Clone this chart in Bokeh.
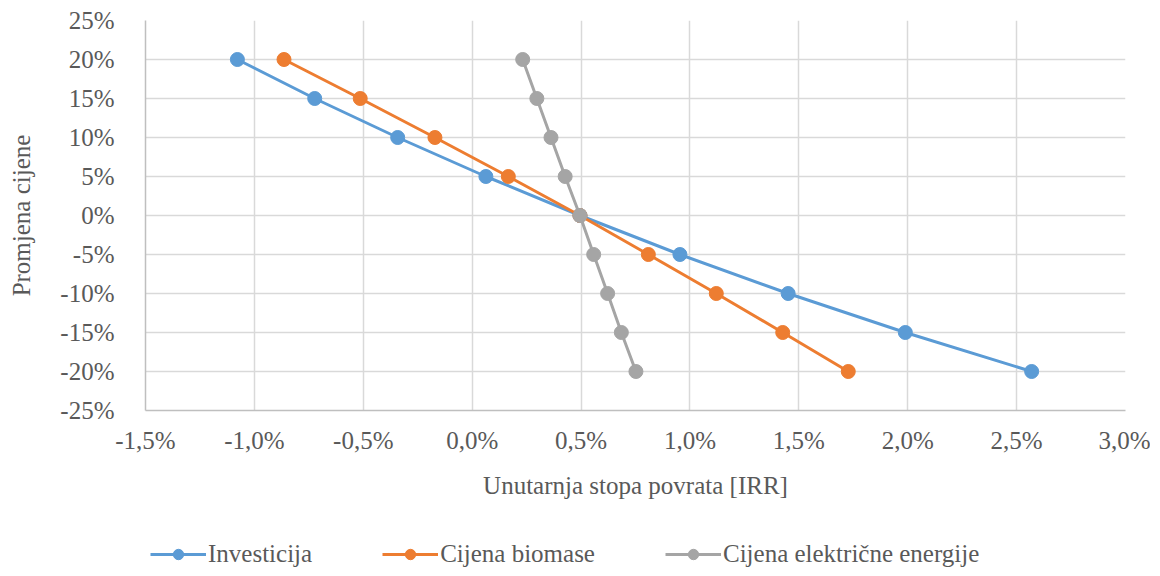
from bokeh.plotting import figure
from bokeh.layouts import column
from bokeh.models import Range1d, FixedTicker, CustomJSTickFormatter, Legend, LegendItem, ColumnDataSource
from bokeh.embed import file_html
from bokeh.resources import INLINE

# Data (IRR in %, price change in %)
price_change = [20, 15, 10, 5, 0, -5, -10, -15, -20]
irr_investicija = [-1.078, -0.723, -0.342, 0.063, 0.495, 0.954, 1.451, 1.989, 2.569]
irr_biomasa = [-0.864, -0.514, -0.171, 0.166, 0.495, 0.809, 1.121, 1.426, 1.727]
irr_struja = [0.232, 0.297, 0.362, 0.427, 0.495, 0.558, 0.622, 0.685, 0.752]

series_names = ["Investicija", "Cijena biomase", "Cijena električne energije"]
series_colors = ["#5B9BD5", "#ED7D31", "#A5A5A5"]

x_ticks = [-1.5, -1.0, -0.5, 0.0, 0.5, 1.0, 1.5, 2.0, 2.5, 3.0]
y_ticks = [-25, -20, -15, -10, -5, 0, 5, 10, 15, 20, 25]

FONT = "Liberation Serif"
FS = "25px"
TXT = "#595959"
W = 1150

p = figure(width=W, height=515, output_backend="svg", toolbar_location=None,
           x_range=Range1d(-1.5, 3.0), y_range=Range1d(-25, 25),
           min_border_left=145, min_border_right=W - 1125, min_border_top=20, min_border_bottom=105)
p.outline_line_color = None

for ax, ticks in ((p.xaxis, x_ticks), (p.yaxis, y_ticks)):
    ax.ticker = FixedTicker(ticks=ticks)
    ax.major_tick_line_color = None
    ax.minor_tick_line_color = None
    ax.axis_line_color = "#bfbfbf"
    ax.axis_line_width = 1.5
    ax.major_label_text_font = FONT
    ax.major_label_text_font_size = FS
    ax.major_label_text_color = TXT
    ax.axis_label_text_font = FONT
    ax.axis_label_text_font_size = FS
    ax.axis_label_text_color = TXT
    ax.axis_label_text_font_style = "normal"

p.xaxis.formatter = CustomJSTickFormatter(code="return tick.toFixed(1).replace('.', ',') + '%';")
p.yaxis.formatter = CustomJSTickFormatter(code="return tick.toFixed(0) + '%';")
p.xaxis.major_label_standoff = 10
p.yaxis.major_label_standoff = 25
p.xaxis.axis_label = "Unutarnja stopa povrata [IRR]"
p.yaxis.axis_label = "Promjena cijene"
p.xaxis.axis_label_standoff = 15
p.yaxis.axis_label_standoff = 22

p.xgrid.ticker = FixedTicker(ticks=x_ticks)
p.ygrid.ticker = FixedTicker(ticks=y_ticks)
p.grid.grid_line_color = "#d9d9d9"
p.grid.grid_line_width = 1.5

sources = []
for xs, col in zip([irr_investicija, irr_biomasa, irr_struja], series_colors):
    src = ColumnDataSource(dict(x=xs, y=price_change))
    sources.append(src)
    p.line("x", "y", source=src, line_color=col, line_width=3)
    p.scatter("x", "y", source=src, size=14, fill_color=col, line_color=col)

# Legend strip below the chart (its y range is set away from the data, so only the legend shows)
lf = figure(width=W, height=55, output_backend="svg", toolbar_location=None,
            x_range=Range1d(-1.5, 3.0), y_range=Range1d(100, 101),
            min_border_left=145, min_border_right=W - 1125, min_border_top=0, min_border_bottom=0)
lf.axis.visible = False
lf.grid.visible = False
lf.outline_line_color = None
items = []
for name, src, col in zip(series_names, sources, series_colors):
    l = lf.line("x", "y", source=src, line_color=col, line_width=3)
    c = lf.scatter("x", "y", source=src, size=14, fill_color=col, line_color=col)
    items.append(LegendItem(label=name, renderers=[l, c]))
legend = Legend(items=items, orientation="horizontal", location=(5, 2),
                glyph_width=56, glyph_height=26, label_standoff=2, spacing=70,
                padding=0, margin=0, border_line_color=None, background_fill_alpha=0,
                label_text_font=FONT, label_text_font_size=FS, label_text_color=TXT)
lf.add_layout(legend, "center")

layout = column(p, lf, spacing=0)
open("out.html", "w").write(file_html(layout, INLINE))
